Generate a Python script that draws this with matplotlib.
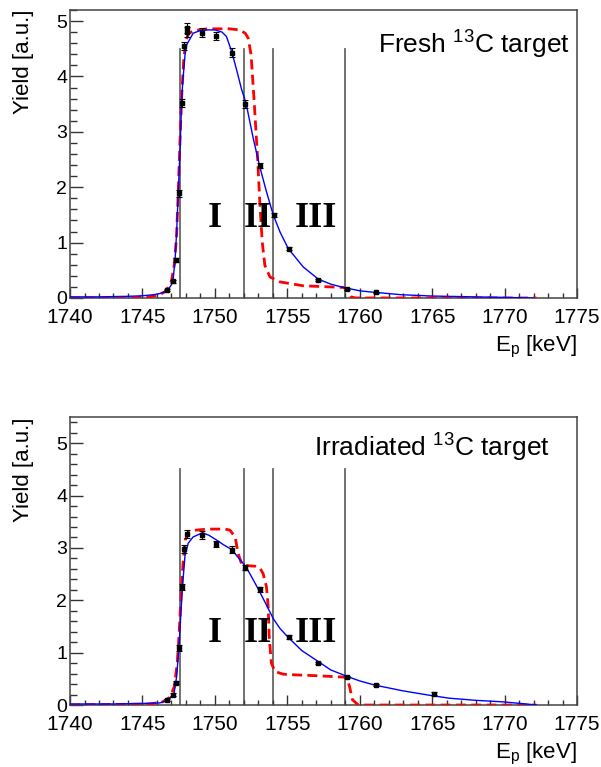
import matplotlib
matplotlib.use("Agg")
import matplotlib.pyplot as plt
from matplotlib.ticker import MultipleLocator

plt.rcParams['font.family'] = ['Liberation Sans', 'DejaVu Sans']
plt.rcParams['mathtext.fontset'] = 'custom'
plt.rcParams['mathtext.rm'] = 'Liberation Sans'
plt.rcParams['mathtext.it'] = 'Liberation Sans'
plt.rcParams['mathtext.default'] = 'regular'

# ---- data ----
# fresh target: measured points
fr_E = [1746.7, 1747.1, 1747.3, 1747.5, 1747.7, 1747.9, 1748.1, 1748.1, 1749.1,
        1750.1, 1751.2, 1752.1, 1753.1, 1754.1, 1755.1, 1757.1, 1759.1, 1761.1]
fr_Y = [0.15, 0.30, 0.69, 1.89, 3.52, 4.55, 4.80, 4.87, 4.79,
        4.73, 4.43, 3.50, 2.39, 1.50, 0.89, 0.32, 0.16, 0.10]
fr_err = [0.02, 0.03, 0.04, 0.06, 0.07, 0.08, 0.09, 0.09, 0.08,
          0.08, 0.08, 0.07, 0.05, 0.04, 0.03, 0.02, 0.02, 0.01]

# fresh target: fit (blue)
fr_fit_E = [1740, 1742, 1744, 1745, 1745.8, 1746.2, 1746.5, 1746.8, 1747.0, 1747.1,
            1747.25, 1747.36, 1747.47, 1747.6, 1747.7, 1747.78, 1747.94, 1748.05,
            1748.5, 1749, 1749.5, 1750, 1750.5, 1750.8, 1751.16, 1751.5, 1751.85,
            1752.15, 1752.65, 1753.1, 1753.56, 1754.03, 1754.5, 1755.07, 1756.1,
            1757.14, 1758, 1758.86, 1760, 1760.7, 1762.8, 1765, 1768, 1770, 1772]
fr_fit_Y = [0.02, 0.02, 0.03, 0.04, 0.06, 0.08, 0.11, 0.16, 0.24, 0.29,
            0.68, 1.19, 1.89, 2.7, 3.52, 3.9, 4.39, 4.57,
            4.78, 4.83, 4.84, 4.84, 4.80, 4.72, 4.45, 4.12, 3.76,
            3.52, 2.88, 2.37, 1.92, 1.50, 1.19, 0.89, 0.56,
            0.34, 0.25, 0.19, 0.13, 0.11, 0.06, 0.035, 0.02, 0.01, 0.0]

# fresh target: model (red dashed)
fr_mod_E = [1740, 1744, 1745.5, 1746.2, 1746.6, 1747.0, 1747.2, 1747.35, 1747.47,
            1747.6, 1747.72, 1747.85, 1748.0, 1748.2, 1748.6, 1749.5, 1751.0, 1751.7,
            1752.1, 1752.3, 1752.5, 1752.7, 1752.95, 1753.1, 1753.27, 1753.45,
            1753.8, 1754.5, 1756.1, 1758.9, 1759.2, 1759.4, 1759.7, 1772.2]
fr_mod_Y = [0.0, 0.0, 0.02, 0.06, 0.12, 0.3, 0.6, 1.1, 1.9,
            2.9, 3.7, 4.3, 4.65, 4.78, 4.83, 4.86, 4.86, 4.84,
            4.78, 4.69, 4.39, 3.6, 2.52, 1.74, 1.01, 0.59,
            0.38, 0.29, 0.22, 0.19, 0.12, 0.02, 0.0, 0.0]

# irradiated target: measured points
ir_E = [1746.7, 1747.1, 1747.3, 1747.5, 1747.7, 1747.9, 1748.1, 1749.1, 1750.1,
        1751.2, 1752.1, 1753.1, 1755.1, 1757.1, 1759.1, 1761.1, 1765.1]
ir_Y = [0.10, 0.20, 0.43, 1.09, 2.25, 2.98, 3.27, 3.25, 3.08,
        2.97, 2.62, 2.21, 1.30, 0.80, 0.54, 0.39, 0.22]
ir_err = [0.02, 0.03, 0.03, 0.05, 0.06, 0.07, 0.08, 0.07, 0.06,
          0.06, 0.05, 0.05, 0.03, 0.02, 0.02, 0.02, 0.02]

# irradiated target: fit (blue)
ir_fit_E = [1740, 1743, 1745, 1746.2, 1746.8, 1747.18, 1747.36, 1747.52, 1747.64,
            1747.78, 1747.94, 1748.16, 1748.5, 1749.15, 1749.6, 1750.12, 1750.6,
            1751.16, 1751.6, 1752.15, 1752.65, 1753.1, 1753.56, 1754.03, 1754.5,
            1755.07, 1756, 1757.14, 1758, 1759.1, 1760, 1761.05, 1763, 1764.96,
            1766.2, 1768, 1769.9, 1771.5, 1772.2]
ir_fit_Y = [0.02, 0.02, 0.03, 0.04, 0.10, 0.22, 0.54, 1.11, 1.69,
            2.32, 2.86, 3.09, 3.21, 3.29, 3.24, 3.15, 3.06,
            2.97, 2.82, 2.64, 2.39, 2.16, 1.91, 1.65, 1.46,
            1.29, 1.04, 0.83, 0.67, 0.55, 0.46, 0.38, 0.27, 0.18,
            0.13, 0.09, 0.06, 0.02, 0.0]

# irradiated target: model (red dashed)
ir_mod_E = [1740, 1745.5, 1746.4, 1746.9, 1747.2, 1747.4, 1747.52, 1747.65, 1747.8,
            1747.95, 1748.2, 1748.7, 1749.5, 1750.7, 1751.04, 1751.4, 1751.6, 1751.85,
            1752.3, 1752.8, 1753.1, 1753.33, 1753.56, 1753.68, 1753.75, 1753.9,
            1754.15, 1754.7, 1755.2, 1757.0, 1759.1, 1759.3, 1759.5, 1759.9, 1772.2]
ir_mod_Y = [0.0, 0.02, 0.06, 0.15, 0.35, 0.8, 1.3, 2.0, 2.7,
            3.15, 3.3, 3.34, 3.36, 3.36, 3.34, 3.21, 2.9, 2.69,
            2.66, 2.65, 2.62, 2.51, 2.26, 1.88, 1.30, 0.80,
            0.64, 0.59, 0.58, 0.56, 0.53, 0.35, 0.10, 0.0, 0.0]

region_E = [1747.6, 1752.0, 1754.0, 1759.0]
region_top = 4.5
region_lab = ['I', 'II', 'III']
region_lab_E = [1750.0, 1753.0, 1757.0]

fig = plt.figure(figsize=(6.01, 7.67), dpi=100)

panels = [
    (0.6115, 5.2, fr_E, fr_Y, fr_err, fr_fit_E, fr_fit_Y, fr_mod_E, fr_mod_Y,
     'Fresh $^{13}$C target', 0.986, 0.878, 1.44),
    (0.0808, 5.5, ir_E, ir_Y, ir_err, ir_fit_E, ir_fit_Y, ir_mod_E, ir_mod_Y,
     'Irradiated $^{13}$C target', 0.947, 0.892, 1.37),
]

for (bot, ymax, E, Y, err, fE, fY, mE, mY, title, tx, ty, ly) in panels:
    ax = fig.add_axes([0.1165, bot, 0.8436, 0.3755])
    ax.set_xlim(1740, 1775)
    ax.set_ylim(0, ymax)

    for e in region_E:
        ax.plot([e, e], [0, region_top], color='#666666', lw=1.3, zorder=1)

    ax.plot(mE, mY, color='#ff0000', lw=2.0, ls=(0, (3.6, 1.9)), zorder=3)
    ax.plot(fE, fY, color='#0000ff', lw=1.0, zorder=4)
    ax.errorbar(E, Y, yerr=err, fmt='s', ms=2.3, color='black', ecolor='black',
                elinewidth=0.8, capsize=2.2, capthick=0.8, zorder=5)

    for lab, e in zip(region_lab, region_lab_E):
        ax.text(e, ly, lab, ha='center', va='center', fontsize=26,
                fontweight='bold', family='Liberation Serif', zorder=6)

    ax.text(tx, ty, title, transform=ax.transAxes, ha='right', va='center',
            fontsize=19)

    ax.xaxis.set_major_locator(MultipleLocator(5))
    ax.xaxis.set_minor_locator(MultipleLocator(1))
    ax.yaxis.set_major_locator(MultipleLocator(1))
    ax.yaxis.set_minor_locator(MultipleLocator(0.2))
    ax.tick_params(axis='both', which='both', direction='in', top=False, right=False,
                   color='#333333')
    ax.tick_params(axis='x', which='major', length=7.2, width=1.0, pad=7, labelsize=15)
    ax.tick_params(axis='x', which='minor', length=3.6, width=1.0)
    ax.tick_params(axis='y', which='major', length=9.4, width=1.0, pad=2, labelsize=14)
    ax.tick_params(axis='y', which='minor', length=5, width=1.0)
    for sp in ax.spines.values():
        sp.set_color('#444444')
        sp.set_linewidth(1.1)

    ax.text(-0.0927, 1.0, 'Yield [a.u.]', transform=ax.transAxes, rotation=90,
            ha='center', va='top', fontsize=16)
    ax.text(1.0, -0.125, 'E$_{p}$ [keV]', transform=ax.transAxes, ha='right',
            va='top', fontsize=16)

fig.savefig('out.png', dpi=100)
